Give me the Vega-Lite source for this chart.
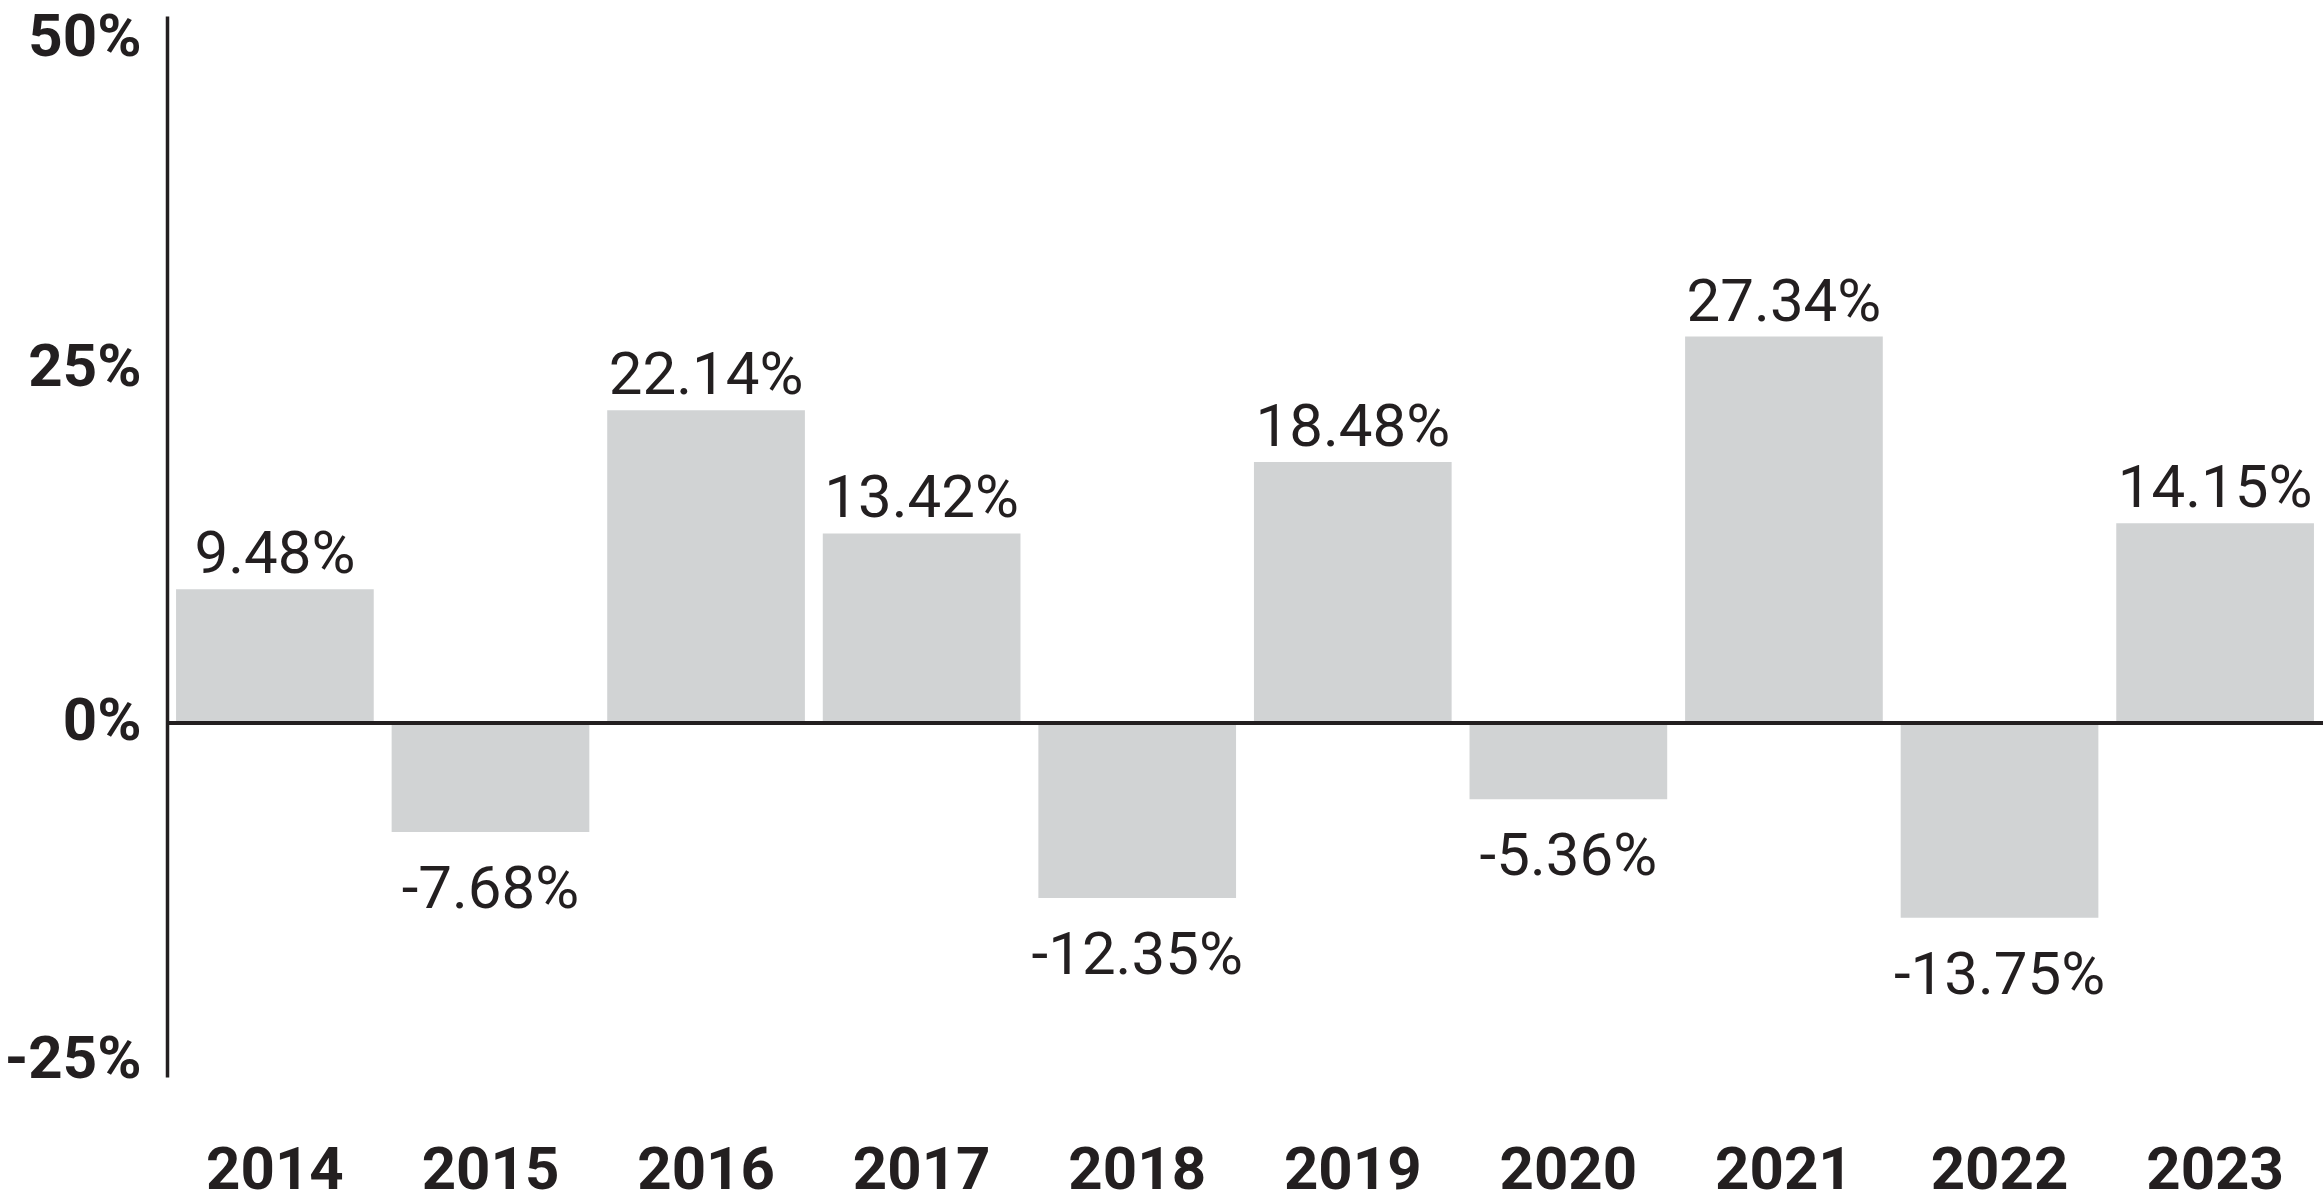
{
  "$schema": "https://vega.github.io/schema/vega-lite/v6.json",
  "autosize": "none",
  "width": 2156,
  "height": 1061,
  "padding": {"left": 167, "top": 16, "right": 0, "bottom": 127},
  "background": "white",
  "config": {
    "view": {"stroke": null},
    "font": "Roboto"
  },
  "data": {
    "values": [
      {"year": "2014", "ret": 9.48, "label": "9.48%"},
      {"year": "2015", "ret": -7.68, "label": "-7.68%"},
      {"year": "2016", "ret": 22.14, "label": "22.14%"},
      {"year": "2017", "ret": 13.42, "label": "13.42%"},
      {"year": "2018", "ret": -12.35, "label": "-12.35%"},
      {"year": "2019", "ret": 18.48, "label": "18.48%"},
      {"year": "2020", "ret": -5.36, "label": "-5.36%"},
      {"year": "2021", "ret": 27.34, "label": "27.34%"},
      {"year": "2022", "ret": -13.75, "label": "-13.75%"},
      {"year": "2023", "ret": 14.15, "label": "14.15%"}
    ]
  },
  "encoding": {
    "x": {
      "field": "year",
      "type": "ordinal",
      "scale": {"paddingInner": 0.083, "paddingOuter": 0.042},
      "axis": {
        "title": null,
        "domain": false,
        "ticks": false,
        "tickSize": 0,
        "labelAngle": 0,
        "labelPadding": 64,
        "labelFontSize": 60,
        "labelFontWeight": "bold",
        "labelColor": "#231f20",
        "labelFont": "Roboto"
      }
    },
    "y": {
      "field": "ret",
      "type": "quantitative",
      "scale": {"domain": [-25, 50], "nice": false, "zero": false},
      "axis": {
        "title": null,
        "values": [-25, 0, 25, 50],
        "labelExpr": "datum.value + '%'",
        "grid": false,
        "ticks": false,
        "tickSize": 0,
        "domain": true,
        "domainColor": "#231f20",
        "domainWidth": 3.5,
        "labelPadding": 26,
        "labelFontSize": 60,
        "labelFontWeight": "bold",
        "labelColor": "#231f20",
        "labelBaseline": "middle",
        "labelOffset": {
          "condition": [
            {"test": "datum.value === 50", "value": 21},
            {"test": "datum.value === -25", "value": -18}
          ],
          "value": -2
        },
        "labelFont": "Roboto"
      }
    }
  },
  "layer": [
    {
      "mark": {"type": "bar", "color": "#d1d3d4"}
    },
    {
      "mark": {"type": "rule", "color": "#231f20", "strokeWidth": 3.5},
      "encoding": {"x": {"value": 0}, "x2": {"value": 2156}, "y": {"datum": 0}}
    },
    {
      "transform": [{"filter": "datum.ret >= 0"}],
      "mark": {"type": "text", "fontSize": 60, "color": "#231f20", "baseline": "alphabetic", "dy": -16},
      "encoding": {"text": {"field": "label"}}
    },
    {
      "transform": [{"filter": "datum.ret < 0"}],
      "mark": {"type": "text", "fontSize": 60, "color": "#231f20", "baseline": "alphabetic", "dy": 76},
      "encoding": {"text": {"field": "label"}}
    }
  ]
}
